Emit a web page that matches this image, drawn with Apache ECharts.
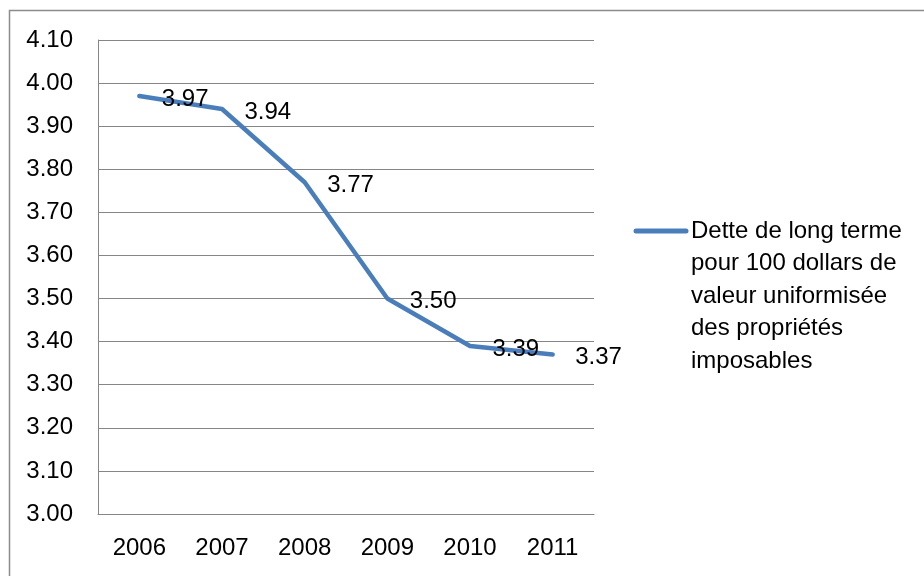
<!DOCTYPE html>
<html>
<head>
<meta charset="utf-8">
<script src="https://cdn.jsdelivr.net/npm/echarts@6/dist/echarts.min.js"></script>
<style>
  html, body { margin: 0; padding: 0; background: #ffffff; }
  #chart { width: 924px; height: 576px; }
</style>
</head>
<body>
<div id="chart"></div>
<script>
// Long-term debt per 100 dollars of standardized taxable property value
const years = ['2006', '2007', '2008', '2009', '2010', '2011'];
const debtValues = [3.97, 3.94, 3.77, 3.50, 3.39, 3.37];
const seriesName = 'Dette de long terme\npour 100 dollars de\nvaleur uniformisée\ndes propriétés\nimposables';

const FONT = '"Liberation Sans", Arial, sans-serif';
const FONT_SIZE = 24;
const LINE_COLOR = '#4A7EBB';
const GRID_COLOR = '#868686';

const chart = echarts.init(document.getElementById('chart'), null, { renderer: 'canvas' });

chart.setOption({
  animation: false,
  backgroundColor: '#ffffff',
  textStyle: { fontFamily: FONT },
  grid: { left: 98, right: 330, top: 40, bottom: 62 },
  xAxis: {
    type: 'category',
    data: years,
    boundaryGap: true,
    axisLine: { show: true, lineStyle: { color: GRID_COLOR, width: 1 } },
    axisTick: { show: false },
    axisLabel: { color: '#000', fontSize: FONT_SIZE, fontFamily: FONT, margin: 22 }
  },
  yAxis: {
    type: 'value',
    min: 3.0,
    max: 4.1,
    interval: 0.1,
    axisLine: { show: true, lineStyle: { color: GRID_COLOR, width: 1 } },
    axisTick: { show: false },
    splitLine: { show: true, lineStyle: { color: GRID_COLOR, width: 1 } },
    axisLabel: {
      color: '#000', fontSize: FONT_SIZE, fontFamily: FONT, margin: 25,
      formatter: v => v.toFixed(2)
    }
  },
  series: [{
    name: seriesName,
    type: 'line',
    data: debtValues,
    symbol: 'circle',
    symbolSize: 1,
    showSymbol: true,
    itemStyle: { color: LINE_COLOR },
    lineStyle: { color: LINE_COLOR, width: 4.5, cap: 'round', join: 'round' },
    label: {
      show: true,
      position: 'right',
      distance: 22,
      offset: [0, 3],
      color: '#000',
      fontSize: FONT_SIZE,
      fontFamily: FONT,
      formatter: p => p.value.toFixed(2)
    },
    z: 3
  }],
  graphic: [
    {
      type: 'rect',
      shape: { x: 9.5, y: 10.5, width: 1000, height: 1000 },
      style: { fill: 'none', stroke: '#8c8c8c', lineWidth: 1.5 },
      silent: true,
      z: 0
    },
    {
      type: 'line',
      shape: { x1: 636, y1: 231, x2: 686, y2: 231 },
      style: { stroke: LINE_COLOR, lineWidth: 5, lineCap: 'round' },
      z: 5
    },
    {
      type: 'text',
      x: 691,
      y: 231 - 16,
      style: {
        text: seriesName,
        font: FONT_SIZE + 'px ' + FONT,
        fill: '#000',
        lineHeight: 32.5,
        verticalAlign: 'top',
        textAlign: 'left'
      },
      z: 5
    }
  ]
});
</script>
</body>
</html>
